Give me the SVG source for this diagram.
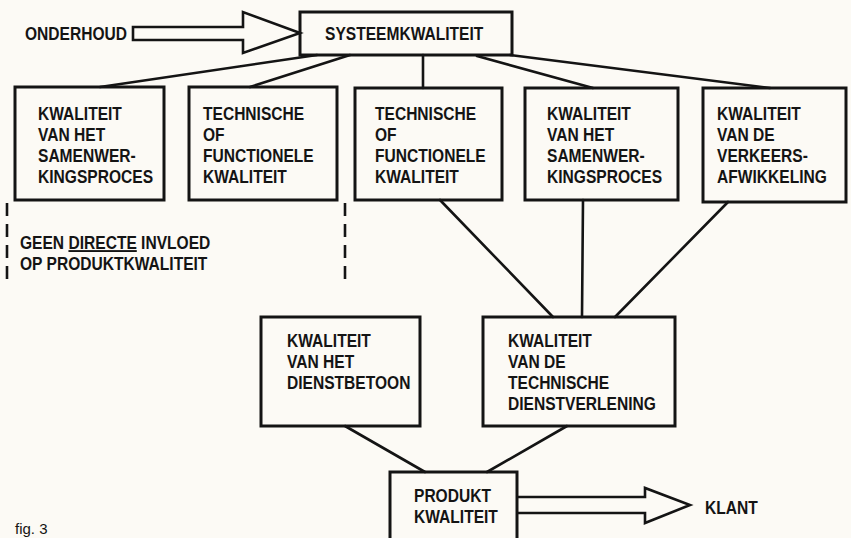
<svg xmlns="http://www.w3.org/2000/svg" width="851" height="538" viewBox="0 0 851 538">
<style>
.box{fill:none;stroke:#141414;stroke-width:3}
.ln{fill:none;stroke:#141414;stroke-width:2.6;stroke-linecap:round}
.arr{fill:none;stroke:#141414;stroke-width:2.6;stroke-linejoin:miter}
.dash{fill:none;stroke:#141414;stroke-width:2.6;stroke-dasharray:13 8}
.t{font-family:"Liberation Sans",Arial,sans-serif;font-weight:bold;font-size:19px;fill:#141414}
</style>
<rect width="851" height="538" fill="#fcfaf5"/>
<g id="connectors">
<line class="ln" x1="317" y1="55" x2="100" y2="87"/>
<line class="ln" x1="350" y1="55" x2="250" y2="87"/>
<line class="ln" x1="423" y1="55" x2="423" y2="88"/>
<line class="ln" x1="477" y1="56" x2="593" y2="88"/>
<line class="ln" x1="510" y1="55" x2="770" y2="88"/>
<line class="ln" x1="440" y1="200" x2="553" y2="317"/>
<line class="ln" x1="583" y1="200" x2="582" y2="317"/>
<line class="ln" x1="728" y1="202" x2="615" y2="317"/>
<line class="ln" x1="345" y1="426" x2="425" y2="472"/>
<line class="ln" x1="567" y1="426" x2="487" y2="472"/>
<polygon class="arr" points="133,27 243,27 243,12 300,33 243,53 243,40 133,40"/>
<polyline class="arr" points="517,497 645,497 645,488 690,505 645,523 645,513 517,513"/>
<line class="dash" x1="7" y1="203" x2="7" y2="282"/>
<line class="dash" x1="345" y1="203" x2="345" y2="282"/>
</g>
<g id="onderhoud"><text class="t" transform="translate(25,40) scale(0.82,1)">ONDERHOUD</text></g>
<g id="systeemkwaliteit">
<rect class="box" x="300" y="12" width="212" height="43"/>
<text class="t" transform="translate(325,40) scale(0.82,1)">SYSTEEMKWALITEIT</text>
</g>
<g id="samenwerking1">
<rect class="box" x="15" y="87" width="149" height="113"/>
<text class="t" transform="translate(38,120) scale(0.82,1)"><tspan x="0" y="0">KWALITEIT</tspan><tspan x="0" y="21">VAN HET</tspan><tspan x="0" y="42">SAMENWER-</tspan><tspan x="0" y="63">KINGSPROCES</tspan></text>
</g>
<g id="technisch1">
<rect class="box" x="189" y="87" width="148" height="113"/>
<text class="t" transform="translate(203,120) scale(0.82,1)"><tspan x="0" y="0">TECHNISCHE</tspan><tspan x="0" y="21">OF</tspan><tspan x="0" y="42">FUNCTIONELE</tspan><tspan x="0" y="63">KWALITEIT</tspan></text>
</g>
<g id="technisch2">
<rect class="box" x="355" y="88" width="147" height="112"/>
<text class="t" transform="translate(375,120) scale(0.82,1)"><tspan x="0" y="0">TECHNISCHE</tspan><tspan x="0" y="21">OF</tspan><tspan x="0" y="42">FUNCTIONELE</tspan><tspan x="0" y="63">KWALITEIT</tspan></text>
</g>
<g id="samenwerking2">
<rect class="box" x="525" y="88" width="153" height="112"/>
<text class="t" transform="translate(547,120) scale(0.82,1)"><tspan x="0" y="0">KWALITEIT</tspan><tspan x="0" y="21">VAN HET</tspan><tspan x="0" y="42">SAMENWER-</tspan><tspan x="0" y="63">KINGSPROCES</tspan></text>
</g>
<g id="verkeersafwikkeling">
<rect class="box" x="703" y="88" width="143" height="114"/>
<text class="t" transform="translate(717,120) scale(0.82,1)"><tspan x="0" y="0">KWALITEIT</tspan><tspan x="0" y="21">VAN DE</tspan><tspan x="0" y="42">VERKEERS-</tspan><tspan x="0" y="63">AFWIKKELING</tspan></text>
</g>
<g id="geen-directe-invloed">
<text class="t" transform="translate(20,249) scale(0.82,1)"><tspan x="0" y="0">GEEN <tspan text-decoration="underline">DIRECTE</tspan> INVLOED</tspan><tspan x="0" y="21">OP PRODUKTKWALITEIT</tspan></text>
</g>
<g id="dienstbetoon">
<rect class="box" x="261" y="317" width="159" height="109"/>
<text class="t" transform="translate(287,347) scale(0.82,1)"><tspan x="0" y="0">KWALITEIT</tspan><tspan x="0" y="21">VAN HET</tspan><tspan x="0" y="42">DIENSTBETOON</tspan></text>
</g>
<g id="technische-dienstverlening">
<rect class="box" x="483" y="317" width="192" height="109"/>
<text class="t" transform="translate(508,347) scale(0.82,1)"><tspan x="0" y="0">KWALITEIT</tspan><tspan x="0" y="21">VAN DE</tspan><tspan x="0" y="42">TECHNISCHE</tspan><tspan x="0" y="63">DIENSTVERLENING</tspan></text>
</g>
<g id="produktkwaliteit">
<rect class="box" x="390" y="472" width="127" height="80"/>
<text class="t" transform="translate(414,502) scale(0.82,1)"><tspan x="0" y="0">PRODUKT</tspan><tspan x="0" y="21">KWALITEIT</tspan></text>
</g>
<g id="klant"><text class="t" transform="translate(705,514) scale(0.82,1)">KLANT</text></g>
<g id="caption"><text transform="translate(15,534)" style="font-family:'Liberation Sans',Arial,sans-serif;font-size:15px;fill:#141414">fig. 3</text></g>
</svg>
